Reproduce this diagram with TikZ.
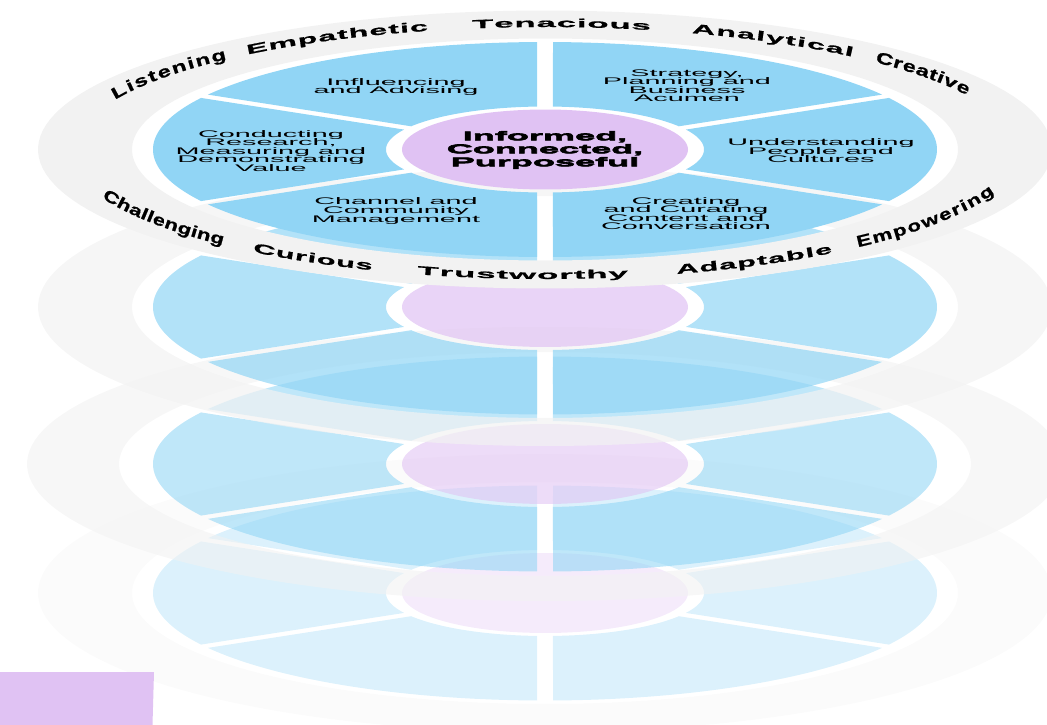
\documentclass[tikz,border=0pt]{standalone}
\usepackage{fontspec}
\usetikzlibrary{decorations.text}
\setmainfont{Liberation Sans}
\newfontfamily\labfont[FakeStretch=3.0]{Liberation Sans}
\newfontfamily\cenfont[FakeStretch=2.85,BoldFeatures={FakeStretch=2.85,FakeBold=5}]{Liberation Sans}
\newfontfamily\ringA[FakeStretch=1.4,BoldFeatures={FakeStretch=1.4,FakeBold=1}]{Liberation Sans}
\newfontfamily\ringB[FakeStretch=1.5,BoldFeatures={FakeStretch=1.5,FakeBold=1}]{Liberation Sans}
\newfontfamily\ringC[FakeStretch=2.3,BoldFeatures={FakeStretch=2.3,FakeBold=1}]{Liberation Sans}
\newfontfamily\ringD[FakeStretch=2.4,BoldFeatures={FakeStretch=2.4,FakeBold=1}]{Liberation Sans}
\newfontfamily\ringE[FakeStretch=2.9,BoldFeatures={FakeStretch=2.9,FakeBold=1}]{Liberation Sans}
\definecolor{ringgray}{HTML}{F2F2F2}
\definecolor{sectorblue}{HTML}{91D5F5}
\definecolor{corepurple}{HTML}{E0C2F3}
\AtBeginDocument{\lineskiplimit=-20pt\relax}
\tikzset{
  seclabel/.style={inner sep=0pt,align=center,text=black,font=\labfont\fontsize{7.2pt}{6.4pt}\selectfont},
  corelabel/.style={inner sep=0pt,align=center,text=black,font=\cenfont\bfseries\fontsize{9.5pt}{9.75pt}\selectfont},
}
\newcommand{\sectorshape}[4]{%
  \fill[sectorblue] plot[domain=#1:#2,samples=50] ({392*cos(\x)},{107.5*sin(\x)})
     -- plot[domain=#3:#4,samples=30] ({159*cos(\x)},{43*sin(\x)}) -- cycle;}
\newcommand{\ringlayer}[6]{% cy, opacity, R, r_y, ir, ir_y
  \begin{scope}[shift={(545,#1)},fill opacity=#2]
    \fill[ringgray] plot[domain=0:360,samples=160] ({#3*cos(\x)},{#4*sin(\x)}) -- cycle
       plot[domain=360:0,samples=160] ({#5*cos(\x)},{#6*sin(\x)}) -- cycle;
    \sectorshape{-88.83}{-30.69}{-32.67}{-87.12}
    \sectorshape{-28.67}{28.67}{27.59}{-27.59}
    \sectorshape{30.69}{88.83}{87.12}{32.67}
    \sectorshape{91.17}{149.31}{147.33}{92.88}
    \sectorshape{151.33}{208.67}{207.59}{152.41}
    \sectorshape{210.69}{268.83}{267.12}{212.67}
    \fill[corepurple] plot[domain=0:360,samples=100] ({143*cos(\x)},{40*sin(\x)}) -- cycle;
  \end{scope}}
\newcommand{\topword}[5]{%
  \path[shift={(545,149)},decorate,decoration={text along path,text align=fit to path,
    text={|#3\bfseries\fontsize{#4pt}{14pt}\selectfont|#5}}]
    plot[domain=#1:#2,samples=50] ({470*cos(\x)},{122*sin(\x)});}
\newcommand{\botword}[5]{%
  \path[shift={(545,149)},decorate,decoration={text along path,text align=fit to path,
    text={|#3\bfseries\fontsize{#4pt}{14pt}\selectfont|#5}}]
    plot[domain=#1:#2,samples=50] ({478*cos(\x)},{130*sin(\x)});}
\begin{document}
\begin{tikzpicture}[x=0.75pt,y=-0.75pt]
\useasboundingbox (0,0) rectangle (1047,725);
\clip (0,0) rectangle (1047,725);
\ringlayer{593}{0.32}{507}{139}{413}{111}
\ringlayer{464}{0.58}{518}{137}{426}{112}
\ringlayer{307}{0.7}{507}{139}{413}{111}
\ringlayer{149.5}{1}{507}{139}{413}{111}
\fill[corepurple] (0,672) -- (154,672) -- (152.5,725) -- (0,725) -- cycle;
\node[seclabel] (influencing) at (396,87) {Influencing\\and Advising};
\node[seclabel] (strategy) at (687,85.5) {Strategy,\\Planning and\\Business\\Acumen};
\node[seclabel] (understanding) at (821,151) {Understanding\\People and\\Cultures};
\node[seclabel] (creating) at (686,213.5) {Creating\\and Curating\\Content and\\Conversation};
\node[seclabel] (channel) at (396,211) {Channel and\\Community\\Management};
\node[seclabel] (conducting) at (271,151) {Conducting\\Research,\\Measuring and\\Demonstrating\\Value};
\node[corelabel] (core) at (545,150) {Informed,\\Connected,\\Purposeful};
\topword{203.8}{227.4}{\ringB}{12}{Listening}
\topword{230.7}{255.6}{\ringD}{10}{Empathetic}
\topword{261.1}{283}{\ringE}{9}{Tenacious}
\topword{288.2}{310.9}{\ringD}{10}{Analytical}
\topword{314.6}{333.9}{\ringB}{12}{Creative}
\botword{158}{132.4}{\ringA}{12}{Challenging}
\botword{127.7}{111.2}{\ringC}{10}{Curious}
\botword{105.5}{80}{\ringE}{9}{Trustworthy}
\botword{74}{53}{\ringC}{10}{Adaptable}
\botword{49.1}{19.8}{\ringA}{12}{Empowering}
\end{tikzpicture}
\end{document}
